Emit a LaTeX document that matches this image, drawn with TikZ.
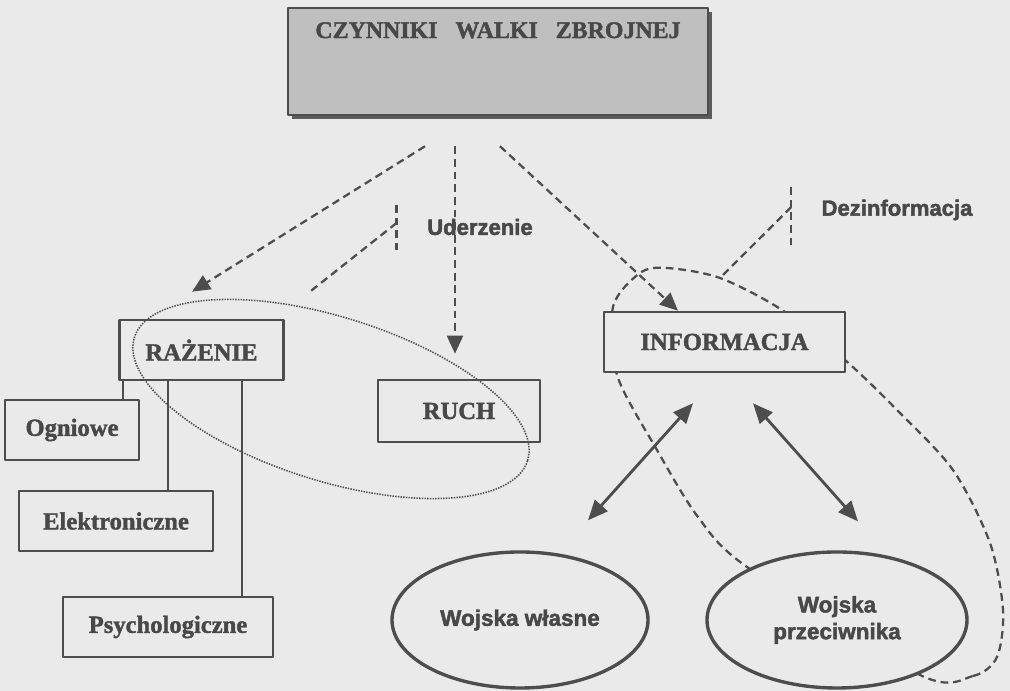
\documentclass[tikz,border=0pt]{standalone}
\usepackage{fontspec}
\setmainfont{Liberation Serif}[BoldFeatures={FakeBold=1.6}]
\newfontfamily\czsans{Liberation Sans}[BoldFeatures={FakeBold=2}]
\usepackage{xcolor}
\definecolor{czbg}{HTML}{EAEAEA}
\definecolor{czhead}{HTML}{BFBFBF}
\definecolor{czline}{HTML}{4D4D4D}
\definecolor{cztext}{HTML}{484848}
\usepackage{tikz}
\usetikzlibrary{arrows.meta,positioning,shapes.geometric,shadows,calc}
\tikzset{
  czbox/.style={draw=czline,line width=1.8pt,fill=czbg,inner sep=2pt,minimum height=1.5cm,align=center,text=cztext,font=\bfseries\fontsize{17.5}{20}\selectfont},
  czhead/.style={draw=czline,line width=1.8pt,fill=czhead,minimum width=10.5cm,minimum height=2.675cm,drop shadow={shadow xshift=1mm,shadow yshift=-1mm,fill=czline,opacity=.9}},
  czheadtext/.style={inner sep=0pt,text=cztext,font=\bfseries\fontsize{17}{20}\selectfont},
  czoval/.style={ellipse,draw=czline,line width=2.4pt,fill=czbg,inner sep=0pt,minimum height=3.4cm,align=center,text=cztext,font=\czsans\bfseries\fontsize{16}{19}\selectfont},
  czlabel/.style={inner sep=0pt,text=cztext,font=\czsans\bfseries\fontsize{15.7}{18}\selectfont},
  czlink/.style={draw=czline,line width=1.6pt},
  czdash/.style={draw=czline,line width=1.6pt,dash pattern=on 5.5pt off 3.5pt},
  czdots/.style={draw=czline,line width=1.1pt,dash pattern=on 1pt off 0.9pt},
  czflow/.style={czdash,-{Triangle[length=4.5mm,width=4mm]}},
  czboth/.style={draw=czline,line width=2pt,{Triangle[length=5mm,width=4.2mm]}-{Triangle[length=5mm,width=4.2mm]}},
}

\begin{document}
\begin{tikzpicture}[line join=round]
\fill[czbg] (0,0) rectangle (25.25,17.275);
\useasboundingbox (0,0) rectangle (25.25,17.275);

% petla informacji -- pod wezlami
\draw[czdash] plot[smooth cycle] coordinates {(23.0,0.4) (24.325,0.375) (24.925,0.85) (25.075,2.025) (24.75,3.7) (23.825,5.525) (22.425,7.025) (21.125,8.275) (19.55,9.525) (18.0,10.325) (16.675,10.575) (16.0,10.45) (15.325,9.6) (15.425,7.9) (16.425,6.025) (17.45,4.35) (18.675,3.1)};

% wezly
\node[czhead] (title) at (12.45,15.7375) {};
\node[czheadtext] (titletext) at ([yshift=-5.9mm]title.north) {CZYNNIKI\hspace{0.75em}WALKI\hspace{0.75em}ZBROJNEJ};
\node[czbox,minimum width=4.1cm] (raz) at (5.0375,8.525) {RAŻENIE};
\node[czbox,minimum width=3.35cm] (ogn) at (1.8,6.525) {Ogniowe};
\node[czbox,minimum width=4.85cm] (ele) at (2.9,4.25) {Elektroniczne};
\node[czbox,minimum width=5.25cm] (psy) at (4.2,1.6) {Psychologiczne};
\node[czbox,minimum width=4.05cm,minimum height=1.55cm] (ruch) at (11.475,7.0) {RUCH};
\node[czbox,minimum width=6.025cm] (info) at (18.1125,8.725) {INFORMACJA};
\node[czoval,minimum width=6.4cm] (wlasne) at (13.0,1.775) {Wojska własne};
\node[czoval,minimum width=6.5cm] (przec) at (20.925,1.775) {Wojska\\przeciwnika};
\node[czlabel] (uder) at (12.0,11.6) {Uderzenie};
\node[czlabel] (dezi) at (22.425,12.025) {Dezinformacja};

% podzial razenia
\foreach \n/\dx in {ogn/0.1125,ele/1.2375,psy/3.0875}
  \draw[czlink] ([xshift=\dx cm]raz.south west) -- ([xshift=\dx cm]raz.south west |- \n.north);

% obszar razenia i ruchu
\draw[czdots,rotate around={-17.4:(8.275,7.3)}] (8.275,7.3) ellipse [x radius=5.15,y radius=2.05];

% od czynnikow
\coordinate (t1) at ([shift={(-1.825,-0.75)}]title.south);
\coordinate (t2) at ([shift={(-1.075,-0.75)}]title.south);
\coordinate (t3) at ([shift={(0.05,-0.75)}]title.south);
\draw[czflow] (t1) -- ([shift={(-0.2375,0.675)}]raz.north);
\draw[czflow] (t2) -- ([yshift=6.25mm]t2 |- ruch.north);
\draw[czflow] (t3) -- ([xshift=-11.625mm]info.north);

% odnosniki etykiet
\coordinate (udtick) at ([xshift=-7.6mm]uder.west);
\draw[czdash] ([yshift=5.5mm]udtick) -- ([yshift=-5.75mm]udtick);
\draw[czdash] ([yshift=1mm]udtick) -- ([shift={(-2.175,-1.625)}]udtick);
\coordinate (dztick) at ([xshift=-7.5mm]dezi.west);
\draw[czdash] ([yshift=5.75mm]dztick) -- ([yshift=-10mm]dztick);
\draw[czdash] ([yshift=0.75mm]dztick) -- (18.0,10.325);

% wymiana informacji
\draw[czboth] ([shift={(1.7,0.75)}]wlasne.north) -- ([shift={(-0.7875,-0.75)}]info.south);
\draw[czboth] ([shift={(0.7125,-0.75)}]info.south) -- ([shift={(0.525,0.725)}]przec.north);
\end{tikzpicture}
\end{document}
